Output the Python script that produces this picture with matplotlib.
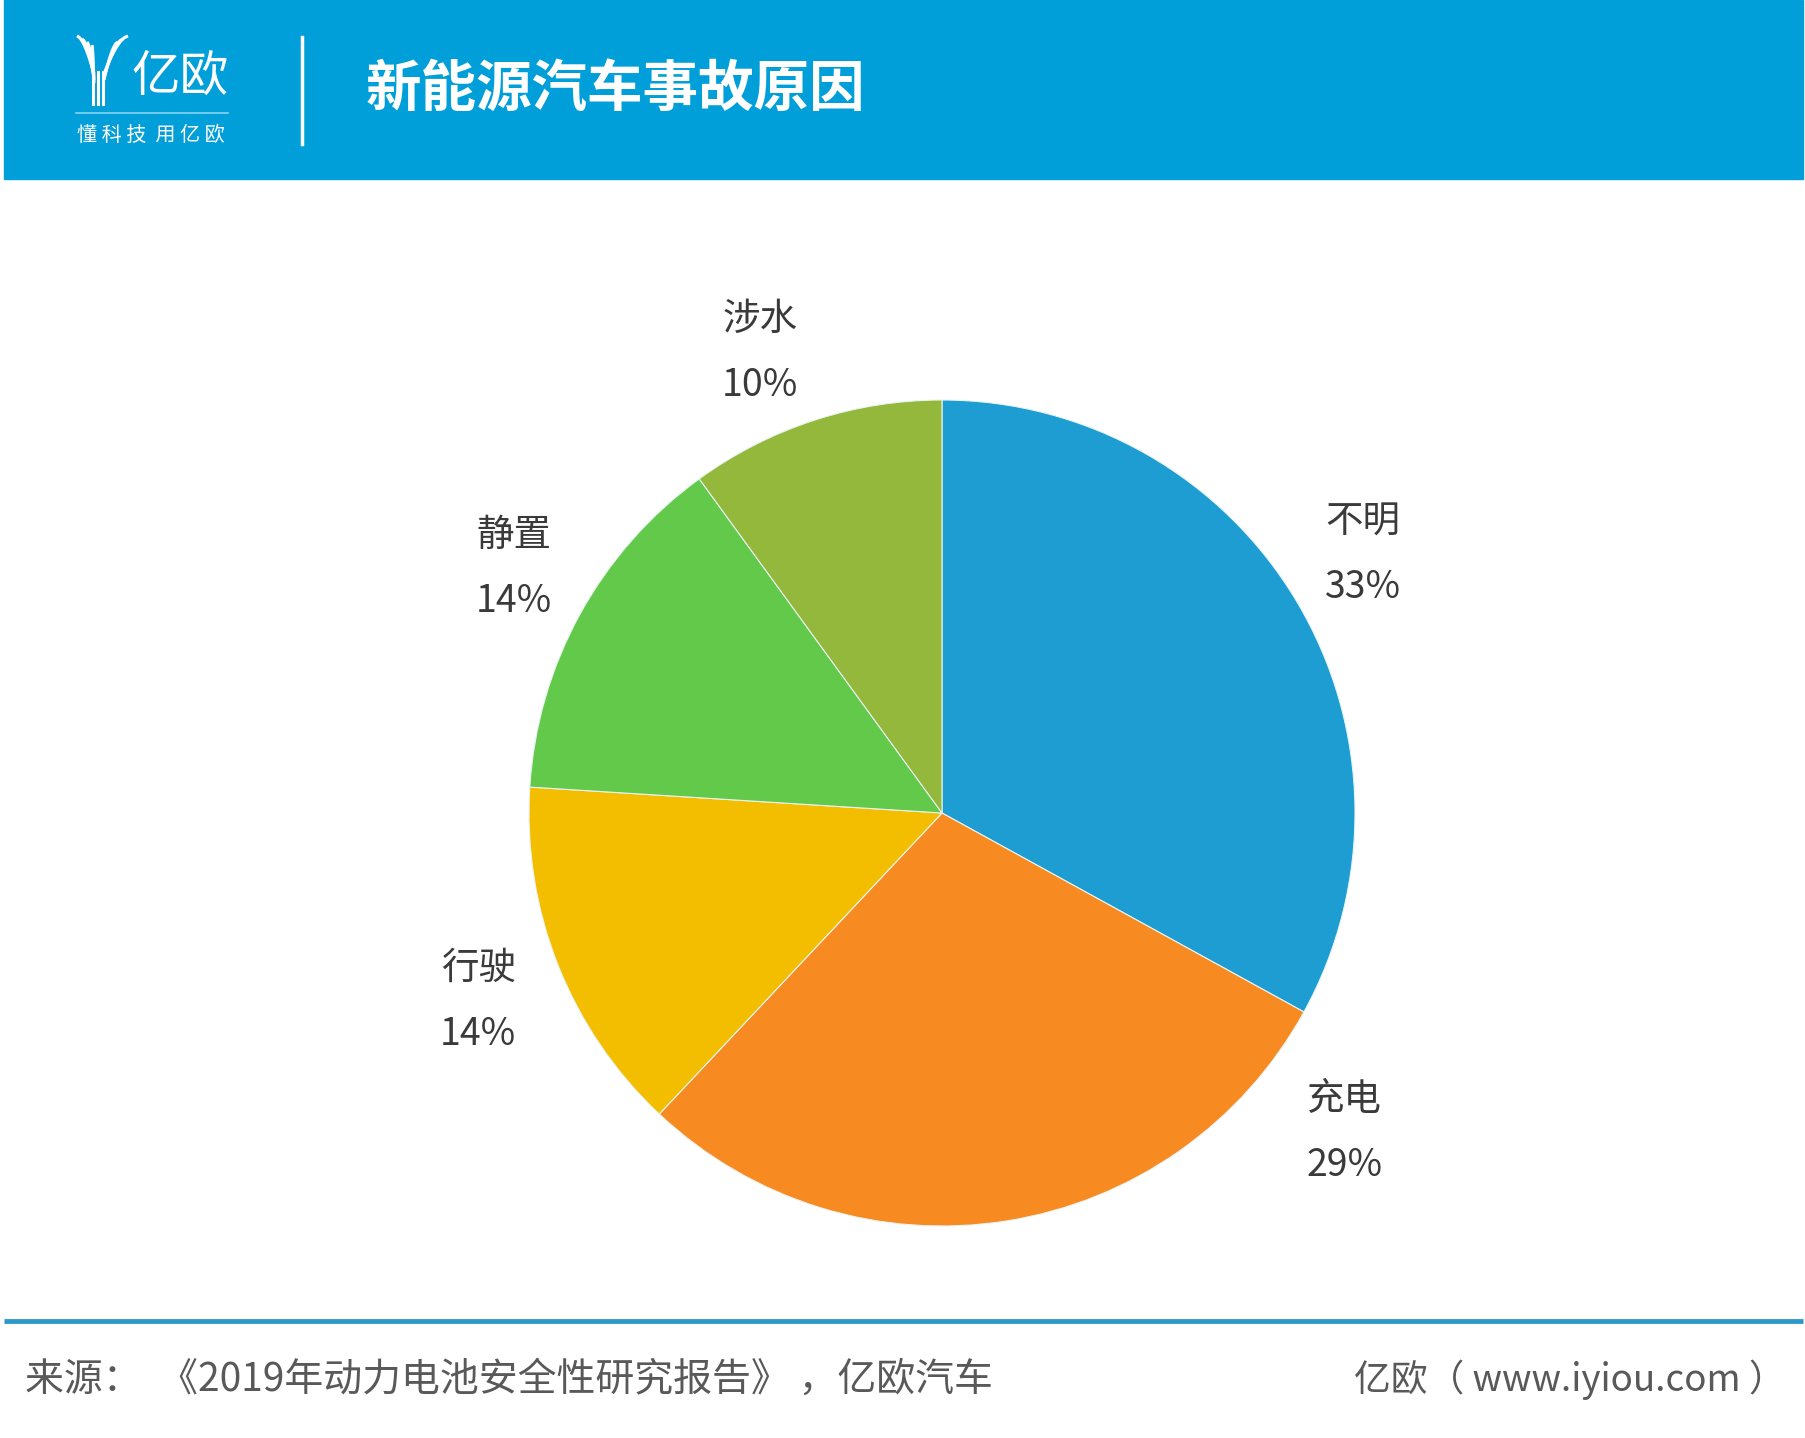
import numpy as np
import matplotlib
matplotlib.use('Agg')
import matplotlib.pyplot as plt
from matplotlib.patches import Rectangle

plt.rcParams['font.family'] = ['Noto Sans CJK SC', 'DejaVu Sans']

# data
categories = ['不明', '充电', '行驶', '静置', '涉水']
shares = [33, 29, 14, 14, 10]
colors = ['#1e9dd3', '#f78b22', '#f4be00', '#62c94b', '#94b83c']
# label centres, in pie radii from the centre
label_pos = [(1.019, 0.625), (0.975, -0.773), (-1.123, -0.457), (-1.036, 0.593), (-0.440, 1.116)]

title = '新能源汽车事故原因'
source = '来源：  《2019年动力电池安全性研究报告》 ，亿欧汽车'
site = '亿欧（ www.iyiou.com ）'

W, H = 1806, 1438
fig = plt.figure(figsize=(W / 100, H / 100), dpi=100)
ax = fig.add_axes([0, 0, 1, 1])

# header band
blue = '#009fd9'
ax.add_patch(Rectangle((4, H - 179), 1799, 179, color=blue, zorder=1))

# logo: stylised Y made of parallel strokes
for i in range(4):
    t = np.linspace(0, 1, 30)
    x0 = 77 + i * 5
    xs = x0 + (94 - x0) * t ** 0.6
    ys = H - (36 + i * 3) - 38 * t
    ax.plot(xs, ys, color='white', lw=2.2, zorder=3, solid_capstyle='butt')
for i in range(3):
    t = np.linspace(0, 1, 30)
    x0 = 128 - i * 5
    xs = x0 + (104 - x0) * t ** 0.6
    ys = H - (36 + i * 3) - 38 * t
    ax.plot(xs, ys, color='white', lw=2.2, zorder=3, solid_capstyle='butt')
for dx in (93, 98, 103):
    ax.plot([dx, dx], [H - 72, H - 104], color='white', lw=2.2, zorder=3)
ax.text(132, H - 78, '亿欧', color='white', fontsize=35, fontweight='light',
        va='center', ha='left', zorder=3)
ax.plot([76, 228], [H - 113, H - 113], color='#86d3f0', lw=1.2, zorder=3)
ax.text(77, H - 135, '懂 科 技  用 亿 欧', color='white', fontsize=14.5,
        va='center', ha='left', zorder=3)
ax.plot([302, 302], [H - 37, H - 144], color='white', lw=2.5, zorder=3)

ax.text(366, H - 90, title, color='white', fontsize=40, fontweight='bold',
        va='center', ha='left', zorder=3)

# pie
cx, cy, r = 942, H - 813, 413
ax.pie(shares, colors=colors, startangle=90, counterclock=False,
       center=(cx, cy), radius=r,
       wedgeprops=dict(linewidth=0.8, edgecolor='#e8f4f0'))

for name, val, (lx, ly) in zip(categories, shares, label_pos):
    x = cx + lx * r
    y = cy + ly * r
    ax.text(x, y + 33, name, fontsize=27, color='#3a3a3a', fontweight='light',
            ha='center', va='center')
    ax.text(x, y - 33, f'{val}%', fontsize=27, color='#3a3a3a', fontweight='light',
            ha='center', va='center')

# footer
ax.plot([4, 1803], [H - 1321, H - 1321], color='#2e98cd', lw=3.5, solid_capstyle='butt')
ax.text(25, H - 1380, source, fontsize=28, color='#595959', fontweight='light',
        ha='left', va='center')
ax.text(1786, H - 1380, site, fontsize=26.5, color='#595959', fontweight='light',
        ha='right', va='center')

ax.set_xlim(0, W)
ax.set_ylim(0, H)
ax.set_aspect('auto')
ax.axis('off')

fig.savefig('out.png', dpi=100, facecolor='white')
